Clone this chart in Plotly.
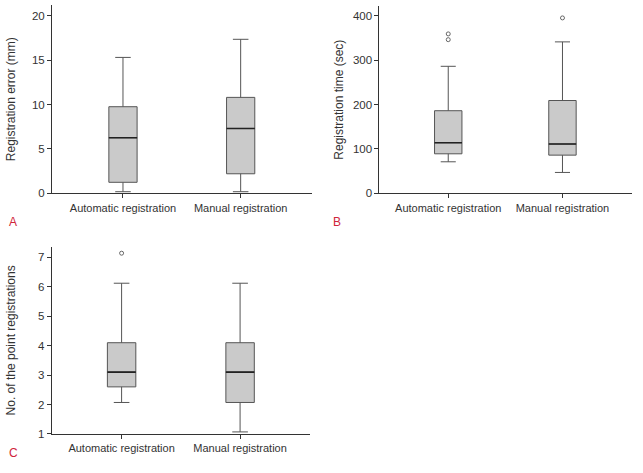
import plotly.graph_objects as go

categories = ["Automatic registration", "Manual registration"]

# Panel A: Registration error (mm)
a_lower = [0.18, 0.18]
a_q1 = [1.24, 2.2]
a_median = [6.26, 7.3]
a_q3 = [9.75, 10.8]
a_upper = [15.3, 17.34]
a_outliers = [[], []]

# Panel B: Registration time (sec)
b_lower = [71, 47]
b_q1 = [89, 86]
b_median = [114, 111]
b_q3 = [186, 209]
b_upper = [286, 341]
b_outliers = [[346, 359], [395]]

# Panel C: No. of the point registrations
c_lower = [2.07, 1.07]
c_q1 = [2.6, 2.07]
c_median = [3.1, 3.1]
c_q3 = [4.1, 4.1]
c_upper = [6.12, 6.12]
c_outliers = [[7.14], []]

panels = [
    dict(xa="x", ya="y", lower=a_lower, q1=a_q1, med=a_median, q3=a_q3, upper=a_upper, out=a_outliers),
    dict(xa="x2", ya="y2", lower=b_lower, q1=b_q1, med=b_median, q3=b_q3, upper=b_upper, out=b_outliers),
    dict(xa="x3", ya="y3", lower=c_lower, q1=c_q1, med=c_median, q3=c_q3, upper=c_upper, out=c_outliers),
]

fig = go.Figure()
box_line = "#555555"
for p in panels:
    fig.add_trace(go.Box(
        x=categories, q1=p["q1"], median=p["med"], q3=p["q3"],
        lowerfence=p["lower"], upperfence=p["upper"],
        xaxis=p["xa"], yaxis=p["ya"], width=0.24, whiskerwidth=0.55,
        fillcolor="#cacaca", line=dict(color=box_line, width=1),
        boxpoints=False, showlegend=False, hoverinfo="skip",
    ))
    # darker median line
    fig.add_trace(go.Box(
        x=categories, q1=p["med"], median=p["med"], q3=p["med"],
        lowerfence=p["med"], upperfence=p["med"],
        xaxis=p["xa"], yaxis=p["ya"], width=0.24, whiskerwidth=0,
        fillcolor="rgba(0,0,0,0)", line=dict(color="#222222", width=1.6),
        boxpoints=False, showlegend=False, hoverinfo="skip",
    ))
    ox, oy = [], []
    for cat, vals in zip(categories, p["out"]):
        for v in vals:
            ox.append(cat)
            oy.append(v)
    if oy:
        fig.add_trace(go.Scatter(
            x=ox, y=oy, mode="markers", xaxis=p["xa"], yaxis=p["ya"],
            marker=dict(symbol="circle-open", size=4, color="#666666", line=dict(width=1)),
            showlegend=False, hoverinfo="skip",
        ))

font = dict(family="Liberation Sans, Arial, sans-serif", size=11, color="#333333")
titlefont = dict(family="Liberation Sans, Arial, sans-serif", size=12, color="#333333")
ytickfont = dict(family="Liberation Sans, Arial, sans-serif", size=11.5, color="#333333")
xtickfont = dict(family="Liberation Sans, Arial, sans-serif", size=11, color="#333333")
axis_common = dict(showline=True, linecolor="#333333", linewidth=1, showgrid=False,
                   zeroline=False, ticks="outside", ticklen=4, tickcolor="#333333",
                   automargin=False)

fig.update_layout(
    width=643, height=473, margin=dict(l=0, r=0, t=0, b=0, autoexpand=False),
    paper_bgcolor="white", plot_bgcolor="white", boxmode="overlay",
    font=font, showlegend=False,
    xaxis=dict(domain=[0.0809, 0.4852], anchor="y", range=[-0.603, 1.606], tickfont=xtickfont, **axis_common),
    yaxis=dict(domain=[0.5913, 0.9894], anchor="x", range=[0, 21.2], tickvals=[0, 5, 10, 15, 20],
               tickfont=ytickfont,
               title=dict(text="Registration error (mm)", font=titlefont, standoff=13), **axis_common),
    xaxis2=dict(domain=[0.590, 0.9824], anchor="y2", range=[-0.603, 1.606], tickfont=xtickfont, **axis_common),
    yaxis2=dict(domain=[0.5913, 0.9873], anchor="x2", range=[0, 421.8], tickvals=[0, 100, 200, 300, 400],
                tickfont=ytickfont,
                title=dict(text="Registration time (sec)", font=titlefont, standoff=6), **axis_common),
    xaxis3=dict(domain=[0.0804, 0.4821], anchor="y3", range=[-0.59, 1.59], tickfont=xtickfont, **axis_common),
    yaxis3=dict(domain=[0.0825, 0.4784], anchor="x3", range=[1, 7.36], tickvals=[1, 2, 3, 4, 5, 6, 7],
                tickfont=ytickfont,
                title=dict(text="No. of the point registrations", font=titlefont, standoff=19), **axis_common),
)

label_font = dict(family="Liberation Sans, Arial, sans-serif", size=12, color="#d0253a")
fig.update_layout(annotations=[
    dict(text="A", x=7 / 643, y=1 - 222 / 473, xref="paper", yref="paper", showarrow=False, font=label_font),
    dict(text="B", x=337 / 643, y=1 - 222 / 473, xref="paper", yref="paper", showarrow=False, font=label_font),
    dict(text="C", x=7 / 643, y=1 - 462 / 473, xref="paper", yref="paper", showarrow=False, font=label_font),
])

fig.write_html("out.html", config={"displayModeBar": False},
               post_script="document.body.style.margin='0px';")
